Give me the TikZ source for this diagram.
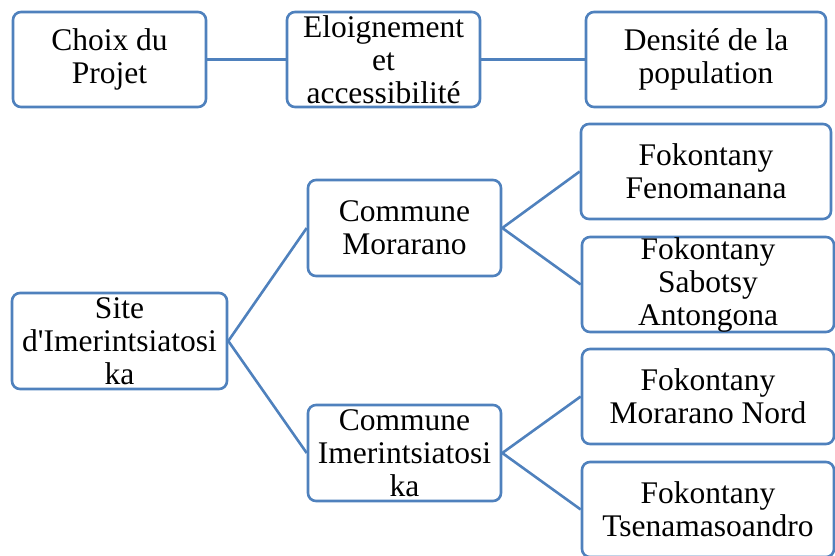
\documentclass[tikz,border=0pt]{standalone}
\usepackage{fontspec}
\setmainfont{Liberation Serif}[Ligatures=TeXOff]
\definecolor{boxblue}{RGB}{79,129,189}
\begin{document}
\begin{tikzpicture}[x=1pt,y=-1pt,
  box/.style={draw=boxblue, line width=2.6pt, rounded corners=8pt, fill=white,
    align=center, inner sep=0pt, font=\fontsize{31.5}{33}\selectfont},
  link/.style={draw=boxblue, line width=2.6pt}]
\useasboundingbox (0,0) rectangle (835,555);
\node[box, minimum width=193pt, minimum height=95pt] (choix) at (109.5,59.5) {Choix du\\Projet};
\node[box, minimum width=193pt, minimum height=95pt] (eloi) at (383.5,59.5) {Eloignement\\et\\accessibilité};
\node[box, minimum width=240pt, minimum height=95pt] (dens) at (706,59.5) {Densité de la\\population};
\node[box, minimum width=215pt, minimum height=96pt] (site) at (119.5,341) {Site\\d'Imerintsiatosi\\ka};
\node[box, minimum width=193pt, minimum height=96pt] (cm) at (404.5,228) {Commune\\Morarano};
\node[box, minimum width=193pt, minimum height=96pt] (ci) at (404.5,453) {Commune\\Imerintsiatosi\\ka};
\node[box, minimum width=250pt, minimum height=95pt] (fen) at (706,171.5) {Fokontany\\Fenomanana};
\node[box, minimum width=252pt, minimum height=95pt] (sab) at (708,284.5) {Fokontany\\Sabotsy\\Antongona};
\node[box, minimum width=252pt, minimum height=95pt] (mn) at (708,396.5) {Fokontany\\Morarano Nord};
\node[box, minimum width=252pt, minimum height=95pt] (ts) at (708,509.5) {Fokontany\\Tsenamasoandro};
\draw[link] (choix.east) -- (eloi.west);
\draw[link] (eloi.east) -- (dens.west);
\draw[link] (site.east) -- (cm.west);
\draw[link] (site.east) -- (ci.west);
\draw[link] (cm.east) -- (fen.west);
\draw[link] (cm.east) -- (sab.west);
\draw[link] (ci.east) -- (mn.west);
\draw[link] (ci.east) -- (ts.west);
\end{tikzpicture}
\end{document}
